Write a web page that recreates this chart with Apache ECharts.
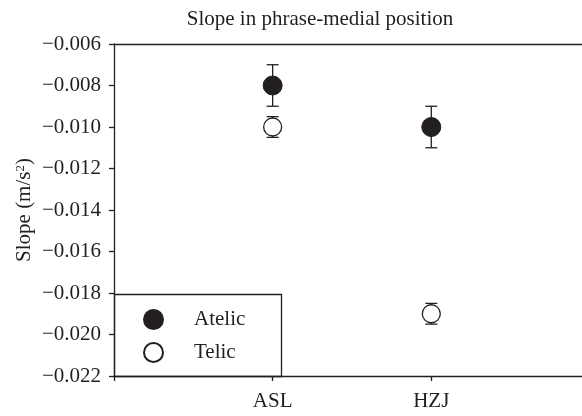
<!DOCTYPE html>
<html><head><meta charset="utf-8">
<script src="https://cdn.jsdelivr.net/npm/echarts@6/dist/echarts.min.js"></script>
<style>html,body{margin:0;padding:0;background:#fff}#c{width:582px;height:416px}</style>
</head><body><div id="c"></div>
<script>
var categories = ['ASL', 'HZJ'];
var atelicMean = [-0.008, -0.010];
var atelicLow = [-0.009, -0.011];
var atelicHigh = [-0.007, -0.009];
var telicMean = [-0.010, -0.019];
var telicLow = [-0.0105, -0.0195];
var telicHigh = [-0.0095, -0.0185];
var yTicks = [-0.022, -0.020, -0.018, -0.016, -0.014, -0.012, -0.010, -0.008, -0.006];

var FONT = '"Liberation Serif", "DejaVu Serif", serif';
var INK = '#231f20';
function pts(arr){ return arr.map(function(v,i){ return [i+1, v]; }); }
function errs(lo, hi){ return lo.map(function(v,i){ return [i+1, v, hi[i]]; }); }
function errRender(params, api){
  var x = api.value(0);
  var p1 = api.coord([x, api.value(1)]);
  var p2 = api.coord([x, api.value(2)]);
  var w = 6;
  var st = {stroke:INK, lineWidth:1.3};
  return {type:'group', children:[
    {type:'line', shape:{x1:p1[0],y1:p1[1],x2:p2[0],y2:p2[1]}, style:st},
    {type:'line', shape:{x1:p1[0]-w,y1:p1[1],x2:p1[0]+w,y2:p1[1]}, style:st},
    {type:'line', shape:{x1:p2[0]-w,y1:p2[1],x2:p2[0]+w,y2:p2[1]}, style:st}
  ]};
}
var chart = echarts.init(document.getElementById('c'), null, {renderer:'canvas'});
chart.setOption({
  animation:false,
  backgroundColor:'#fff',
  title:{text:'Slope in phrase-medial position', left:315, top:4, textAlign:'center',
    textStyle:{fontFamily:FONT, fontWeight:'normal', fontSize:21, color:INK}},
  grid:{left:114, right:0, top:44, bottom:40},
  xAxis:[{type:'value', min:0, max:2.95, interval:1, position:'bottom',
    axisLine:{lineStyle:{color:INK, width:1.3}},
    axisTick:{length:5, lineStyle:{color:INK, width:1.3}},
    splitLine:{show:false},
    axisLabel:{fontFamily:FONT, fontSize:21, color:INK, margin:15, showMaxLabel:false,
      formatter:function(v){ return categories[Math.round(v)-1] || ''; }}},
    {type:'value', min:0, max:2.95, position:'top',
    axisLine:{lineStyle:{color:INK, width:1.3}},
    axisTick:{show:false}, axisLabel:{show:false}, splitLine:{show:false}}],
  yAxis:{type:'value', min:yTicks[0], max:yTicks[yTicks.length-1], interval:0.002,
    name:'Slope (m/s{sup|2})', nameLocation:'middle', nameGap:79, nameRotate:90,
    nameMoveOverlap:false,
    nameTextStyle:{fontFamily:FONT, fontSize:21, color:INK,
      rich:{sup:{fontFamily:FONT, fontSize:13, color:INK, verticalAlign:'top', padding:[0,0,8,0]}}},
    axisLine:{lineStyle:{color:INK, width:1.3}},
    axisTick:{length:5, lineStyle:{color:INK, width:1.3}},
    splitLine:{show:false},
    axisLabel:{fontFamily:FONT, fontSize:21, color:INK, margin:13,
      formatter:function(v){ return (v<0?'\u2212':'') + Math.abs(v).toFixed(3); }}},
  legend:{orient:'vertical', left:138, top:304, itemGap:12, itemWidth:19, itemHeight:19,
    data:['Atelic','Telic'],
    textStyle:{fontFamily:FONT, fontSize:21, color:INK, padding:[0,0,0,26]}},
  graphic:[{type:'rect', shape:{x:114.5, y:294.5, width:167, height:82},
    style:{fill:'none', stroke:INK, lineWidth:1.3}, z:100}],
  series:[
    {type:'custom', name:'errA', renderItem:errRender, data:errs(atelicLow, atelicHigh), z:1},
    {type:'custom', name:'errT', renderItem:errRender, data:errs(telicLow, telicHigh), z:1},
    {type:'scatter', name:'Atelic', data:pts(atelicMean), symbol:'circle', symbolSize:19,
      itemStyle:{color:INK, borderColor:INK, borderWidth:1, opacity:1}, z:5},
    {type:'scatter', name:'Telic', data:pts(telicMean), symbol:'circle', symbolSize:18,
      itemStyle:{color:'#fff', borderColor:INK, borderWidth:1.3, opacity:1}, z:5}
  ]
});
</script></body></html>
